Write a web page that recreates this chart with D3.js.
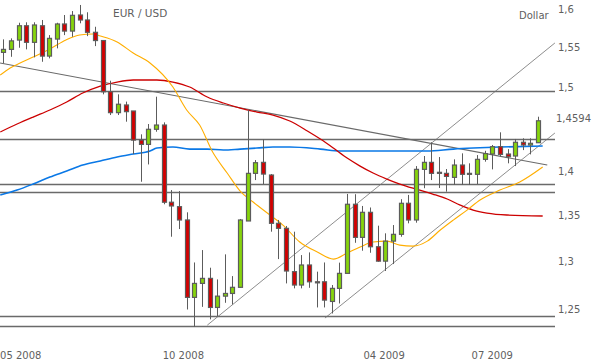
<!DOCTYPE html>
<html>
<head>
<meta charset="utf-8">
<script src="https://cdn.jsdelivr.net/npm/d3@7"></script>
<style>
  body { margin: 0; background: #fff; }
  text { font-family: "DejaVu Sans", Verdana, sans-serif; fill: #5f5f5f; }
</style>
</head>
<body>
<div id="chart"></div>
<script>
// weekly EUR/USD candles, first week 2008-05-05
var firstWeek = new Date(2008, 4, 5);
var opens  = [1.5439,1.5477,1.5596,1.5781,1.5567,1.5781,1.5392,1.5609,1.5804,1.5712,1.5921,1.5856,1.5696,1.5590,1.4947,1.4692,1.4785,1.4712,1.4364,1.4313,
              1.4492,1.4543,1.3648,1.3598,1.3450,1.2620,1.2766,1.2819,1.2516,1.2633,1.2661,1.2725,1.3439,1.3976,1.4103,1.3957,1.3413,1.3358,1.2890,1.2749,
              1.2961,1.2783,1.2783,1.2578,1.2714,1.2872,1.3625,1.3259,1.3535,1.3157,1.3002,1.3218,1.3292,1.3636,1.3450,1.4022,1.4103,1.3988,1.3976,1.3930,
              1.4072,1.3976,1.3965,1.4138,1.4200,1.4286,1.4200,1.4177,1.4338,1.4306,1.4333];
var highs  = [1.5605,1.5618,1.5820,1.5826,1.5826,1.5856,1.5660,1.5820,1.5921,1.5973,1.6053,1.5957,1.5768,1.5590,1.5083,1.4915,1.4826,1.4712,1.4432,1.4555,
              1.4886,1.4575,1.3785,1.3774,1.3535,1.2988,1.3121,1.2932,1.2808,1.3075,1.2843,1.3461,1.4723,1.4130,1.4373,1.3968,1.3450,1.3384,1.3321,1.3067,
              1.3096,1.2890,1.2988,1.2749,1.2986,1.3741,1.3738,1.3606,1.3589,1.3387,1.3303,1.3394,1.3682,1.3730,1.4060,1.4177,1.4338,1.4165,1.4026,1.4138,
              1.4208,1.4092,1.4188,1.4238,1.4306,1.4456,1.4257,1.4377,1.4385,1.4385,1.4643];
var lows   = [1.5300,1.5383,1.5498,1.5477,1.5376,1.5320,1.5363,1.5490,1.5660,1.5638,1.5813,1.5647,1.5519,1.4915,1.4663,1.4663,1.4583,1.4199,1.3880,1.4079,
              1.4463,1.3625,1.3266,1.3350,1.2495,1.2318,1.2522,1.2394,1.2428,1.2564,1.2547,1.2720,1.3439,1.3899,1.3854,1.3321,1.3024,1.2766,1.2714,1.2714,
              1.2720,1.2516,1.2516,1.2454,1.2557,1.2872,1.3200,1.3114,1.3092,1.2995,1.2897,1.2971,1.3266,1.3413,1.3420,1.3806,1.3899,1.3809,1.3767,1.3843,
              1.3843,1.3843,1.3854,1.4111,1.4022,1.4168,1.4092,1.4060,1.4246,1.4196,1.4333];
var closes = [1.5477,1.5586,1.5781,1.5567,1.5791,1.5392,1.5618,1.5804,1.5712,1.5917,1.5856,1.5696,1.5590,1.4947,1.4692,1.4794,1.4704,1.4364,1.4313,1.4492,
              1.4543,1.3648,1.3606,1.3450,1.2620,1.2766,1.2819,1.2516,1.2633,1.2661,1.2725,1.3450,1.3976,1.4099,1.3968,1.3413,1.3358,1.2897,1.2749,1.2961,
              1.2783,1.2772,1.2592,1.2714,1.2872,1.3625,1.3259,1.3535,1.3157,1.3002,1.3218,1.3292,1.3636,1.3450,1.4022,1.4103,1.3976,1.3976,1.3941,1.4072,
              1.3965,1.3965,1.4138,1.4205,1.4286,1.4196,1.4168,1.4338,1.4306,1.4326,1.4594];

// moving averages, [week index, value]
var maFast = [[-0.4,1.5154],[0.9,1.5242],[2.2,1.5305],[3.9,1.5380],[6.1,1.5482],[8.2,1.5597],[10.0,1.5661],[11.7,1.5674],[12.7,1.5648],[14.9,1.5572],
              [17.0,1.5431],[19.2,1.5305],[22.2,1.5005],[24.0,1.4724],[25.7,1.4543],[27.4,1.4223],[29.3,1.3980],[31.0,1.3774],[32.7,1.3650],[34.9,1.3505],
              [36.6,1.3394],[38.8,1.3208],[41.1,1.3100],[43.2,1.3024],[45.0,1.3089],[46.7,1.3154],[48.4,1.3208],[50.2,1.3218],[51.9,1.3175],[53.6,1.3164],
              [55.5,1.3218],[57.2,1.3339],[58.9,1.3449],[60.7,1.3560],[62.4,1.3673],[65.0,1.3785],[67.6,1.3877],[70.6,1.4049]];
var maSlow = [[-0.4,1.4460],[1.8,1.4555],[3.9,1.4639],[6.1,1.4724],[8.3,1.4821],[10.4,1.4931],[12.7,1.5017],[14.9,1.5067],[17.0,1.5092],[20.1,1.5092],
              [22.2,1.5067],[24.4,1.5005],[26.7,1.4882],[28.8,1.4809],[31.0,1.4748],[33.2,1.4699],[35.3,1.4663],[37.5,1.4591],[39.8,1.4472],[41.5,1.4376],
              [43.2,1.4270],[45.0,1.4153],[46.7,1.4060],[48.4,1.3980],[50.2,1.3911],[51.9,1.3854],[54.5,1.3785],[56.2,1.3740],[58.1,1.3684],[59.8,1.3616],
              [61.5,1.3560],[63.3,1.3527],[65.9,1.3505],[70.6,1.3494]];
var maMid  = [[-0.4,1.3729],[1.8,1.3785],[3.9,1.3854],[6.1,1.3934],[8.3,1.4003],[10.4,1.4072],[12.7,1.4119],[14.9,1.4165],[17.0,1.4200],[19.2,1.4235],
              [20.1,1.4270],[22.2,1.4282],[24.4,1.4258],[26.7,1.4258],[28.8,1.4247],[31.0,1.4258],[33.2,1.4270],[35.3,1.4282],[37.5,1.4282],[41.5,1.4258],
              [44.1,1.4235],[48.4,1.4235],[55.5,1.4235],[58.9,1.4258],[61.5,1.4270],[65.0,1.4282],[70.6,1.4294]];

// support / resistance levels and trend lines
var levels = [1.4956, 1.4376, 1.3854, 1.3763, 1.2427, 1.2325];
var trendLines = [
  [[-0.43, 1.5305], [71.2, 1.4072]],
  [[26.7, 1.2335], [72.2, 1.5559]],
  [[42.1, 1.2407], [72.2, 1.4448]]
];

var yTicks = [1.25, 1.3, 1.35, 1.4, 1.5, 1.55, 1.6];
var xTickDates = ["2008-05-02", "2008-09-28", "2009-03-31", "2009-07-08"];
var xTickLabels = ["05 2008", "10 2008", "04 2009", "07 2009"];
var lastLabel = "1,4594";

var W = 592, H = 364;
var svg = d3.select("#chart").append("svg")
  .attr("width", W).attr("height", H);

var n = closes.length;
var x = d3.scaleLinear().domain([0, n - 1]).range([3.3, 538.1]);
var xt = d3.scaleTime()
  .domain([firstWeek, d3.timeWeek.offset(firstWeek, n - 1)])
  .range([3.3, 538.1]);
var y = d3.scaleLog().domain([1.25, 1.6]).range([309, 9]);

var plotRight = 555;

// horizontal levels
svg.selectAll(".level")
  .data(levels)
  .enter().append("line")
  .attr("x1", 0).attr("x2", plotRight)
  .attr("y1", function (d) { return Math.round(y(d)) + 0.5; })
  .attr("y2", function (d) { return Math.round(y(d)) + 0.5; })
  .attr("stroke", "#6a6a6a").attr("stroke-width", 1.4);

// trend lines
svg.selectAll(".trend")
  .data(trendLines)
  .enter().append("line")
  .attr("x1", function (d) { return Math.max(0, x(d[0][0])); })
  .attr("y1", function (d) { return y(d[0][1]); })
  .attr("x2", function (d) { return x(d[1][0]); })
  .attr("y2", function (d) { return y(d[1][1]); })
  .attr("stroke", function (d, i) { return i == 0 ? "#6a6a6a" : "#707070"; })
  .attr("stroke-width", function (d, i) { return i == 0 ? 1.1 : 0.8; });

// moving averages
var line = d3.line()
  .x(function (d) { return Math.max(0, x(d[0])); })
  .y(function (d) { return y(d[1]); })
  .curve(d3.curveMonotoneX);

svg.append("path").datum(maMid)
  .attr("fill", "none").attr("stroke", "#0a78e6").attr("stroke-width", 1.6)
  .attr("d", line);
svg.append("path").datum(maSlow)
  .attr("fill", "none").attr("stroke", "#cc0000").attr("stroke-width", 1.3)
  .attr("d", line);
svg.append("path").datum(maFast)
  .attr("fill", "none").attr("stroke", "#ffae00").attr("stroke-width", 1.1)
  .attr("d", line);

// candles
var candles = d3.range(n).map(function (i) {
  return { i: i, o: opens[i], h: highs[i], l: lows[i], c: closes[i] };
});

var g = svg.selectAll(".candle")
  .data(candles)
  .enter().append("g");

g.append("line")
  .attr("x1", function (d) { return Math.round(x(d.i)) + 0.5; })
  .attr("x2", function (d) { return Math.round(x(d.i)) + 0.5; })
  .attr("y1", function (d) { return y(d.h); })
  .attr("y2", function (d) { return y(d.l); })
  .attr("stroke", "#5c5c5c").attr("stroke-width", 1);

g.append("rect")
  .attr("x", function (d) { return Math.round(x(d.i)) - 1.5; })
  .attr("width", 4)
  .attr("y", function (d) { return y(Math.max(d.o, d.c)); })
  .attr("height", function (d) { return Math.max(1, Math.abs(y(d.o) - y(d.c))); })
  .attr("fill", function (d) { return d.c >= d.o ? "#86d40c" : "#d30000"; })
  .attr("stroke", "#5c5c5c").attr("stroke-width", 1.2);

// y labels
svg.selectAll(".ylab")
  .data(yTicks)
  .enter().append("text")
  .attr("x", 558)
  .attr("y", function (d) { return y(d); })
  .attr("dy", "0.35em")
  .style("font-size", "10px")
  .text(function (d) { return String(d).replace(".", ","); });

svg.append("text")
  .attr("x", 556)
  .attr("y", y(closes[n - 1]) - 2.5)
  .attr("dy", "0.35em")
  .style("font-size", "10px")
  .text(lastLabel);

// x labels
var parse = d3.timeParse("%Y-%m-%d");
svg.selectAll(".xlab")
  .data(xTickDates)
  .enter().append("text")
  .attr("x", function (d) { return Math.max(0, xt(parse(d))); })
  .attr("y", 355)
  .attr("dy", "0.35em")
  .style("font-size", "10px")
  .text(function (d, i) { return xTickLabels[i]; });

// titles
svg.append("text").attr("x", 113).attr("y", 13).attr("dy", "0.35em")
  .style("font-size", "10.5px").text("EUR / USD");
svg.append("text").attr("x", 519).attr("y", 15.5).attr("dy", "0.35em")
  .style("font-size", "10px").text("Dollar");
</script>
</body>
</html>
